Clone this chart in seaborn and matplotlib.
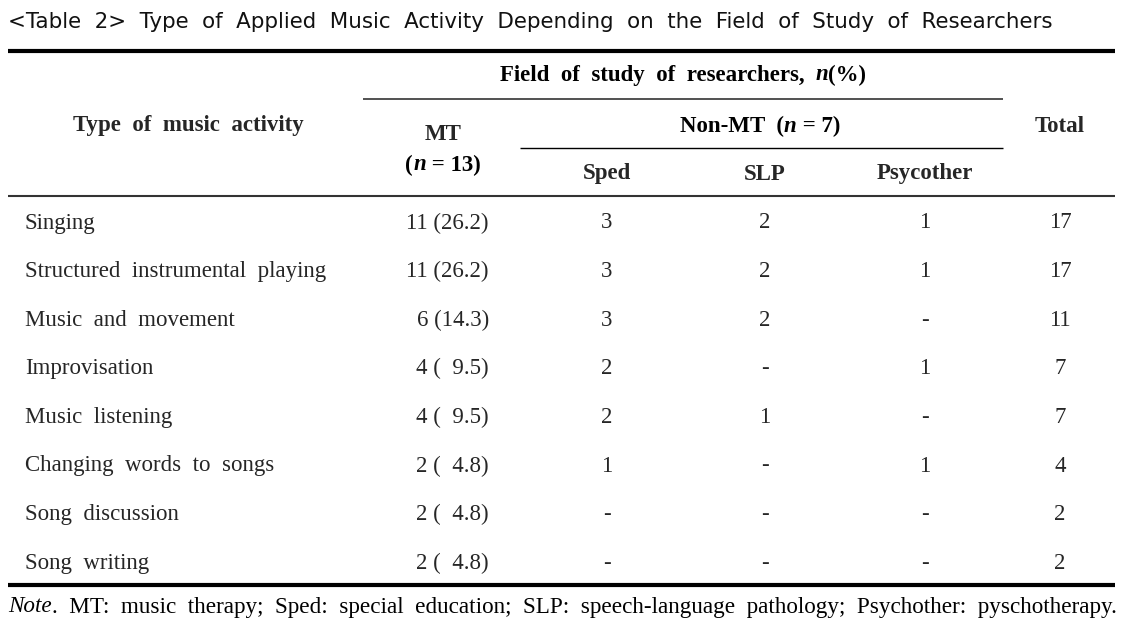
import matplotlib
matplotlib.use("Agg")
import matplotlib.pyplot as plt
import seaborn as sns

# table data
activities = ["Singing", "Structured instrumental playing", "Music and movement",
              "Improvisation", "Music listening", "Changing words to songs",
              "Song discussion", "Song writing"]
mt_n = [11, 11, 6, 4, 4, 2, 2, 2]
mt_pct = [26.2, 26.2, 14.3, 9.5, 9.5, 4.8, 4.8, 4.8]
sped = [3, 3, 3, 2, 2, 1, None, None]
slp = [2, 2, 2, None, 1, None, None, None]
psycother = [1, 1, None, 1, None, 1, None, None]
total = [17, 17, 11, 7, 7, 4, 2, 2]

title = "<Table 2> Type of Applied Music Activity Depending on the Field of Study of Researchers"
note = ". MT: music therapy; Sped: special education; SLP: speech-language pathology; Psychother: pyschotherapy."

sns.set_style("white")
plt.rcParams["font.family"] = ["Liberation Serif", "DejaVu Serif"]

W, H = 1135, 629
fig = plt.figure(figsize=(W / 100, H / 100), dpi=100)
ax = fig.add_axes([0, 0, 1, 1])
ax.set_xlim(0, W)
ax.set_ylim(H, 0)
ax.axis("off")
renderer = fig.canvas.get_renderer()

FS = 16.5


def wide(s):
    # the source typesetting uses very loose word spacing
    return s.replace(" ", "  ")


def rich(x, y, parts, ha="center", size=FS, family=None, fit=None, color="black"):
    # parts: (text, style, weight); fit = target width in px
    items = []
    for s, style, weight in parts:
        kw = {"family": family} if family else {}
        t = ax.text(0, y, s, fontsize=size, style=style, weight=weight,
                    va="center", ha="left", color=color, **kw)
        items.append(t)
    widths = [t.get_window_extent(renderer).width for t in items]
    if fit:
        scale = fit / sum(widths)
        for t in items:
            t.set_fontsize(size * scale)
        widths = [t.get_window_extent(renderer).width for t in items]
    tot = sum(widths)
    start = x - tot / 2 if ha == "center" else x
    for t, w in zip(items, widths):
        t.set_x(start)
        start += w


def fmt(v):
    return "-" if v is None else str(v)


# title
rich(8, 22, [(wide(title), "normal", "normal")], ha="left", size=14.8,
     family=["DejaVu Sans"], fit=1047, color="#111111")

# rules
ax.hlines(51, 8, 1115, color="black", lw=3)
ax.hlines(99, 363, 1003, color="#333333", lw=1.2)
ax.hlines(148, 520, 1003, color="black", lw=1)
ax.hlines(196, 8, 1115, color="#333333", lw=1.5)
ax.hlines(585, 8, 1115, color="black", lw=3)

# header
rich(683, 75, [(wide("Field of study of researchers, "), "normal", "bold"),
               ("n", "italic", "bold"), ("(%)", "normal", "bold")])
ax.text(188, 126, wide("Type of music activity"), fontsize=FS, weight="bold",
        ha="center", va="center")
ax.text(443, 135, "MT", fontsize=FS, weight="bold", ha="center", va="center")
rich(443, 165, [("(", "normal", "bold"), ("n", "italic", "bold"),
                (" = 13)", "normal", "bold")])
rich(760, 126, [("Non-MT  (", "normal", "bold"), ("n", "italic", "bold"),
                (" = 7)", "normal", "bold")])
ax.text(1060, 126, "Total", fontsize=FS, weight="bold", ha="center", va="center")
for x, lab in zip([607, 765, 925], ["Sped", "SLP", "Psycother"]):
    ax.text(x, 174, lab, fontsize=FS, weight="bold", ha="center", va="center")

# body rows
for i, act in enumerate(activities):
    y = 223 + i * 48.6
    ax.text(25, y, wide(act), fontsize=FS, ha="left", va="center")
    pct = f"{mt_pct[i]:.1f}"
    pct = pct if len(pct) == 4 else "\u2007" + pct
    ax.text(489, y, f"{mt_n[i]} ({pct})", fontsize=FS, ha="right", va="center")
    ax.text(607, y, fmt(sped[i]), fontsize=FS, ha="center", va="center")
    ax.text(765, y, fmt(slp[i]), fontsize=FS, ha="center", va="center")
    ax.text(925, y, fmt(psycother[i]), fontsize=FS, ha="center", va="center")
    ax.text(1060, y, fmt(total[i]), fontsize=FS, ha="center", va="center")

# note
rich(8, 607, [("Note", "italic", "normal"), (wide(note), "normal", "normal")],
     ha="left", size=15, fit=1117)

fig.savefig("out.png", dpi=100)
